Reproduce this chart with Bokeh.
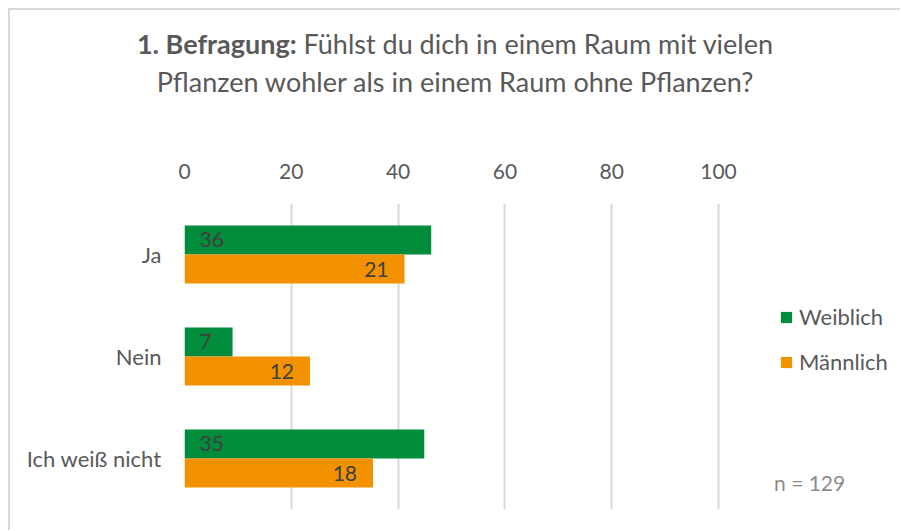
from bokeh.plotting import figure
from bokeh.layouts import column
from bokeh.models import (ColumnDataSource, FactorRange, FixedTicker, Label, LabelSet,
                          Legend, LegendItem, Range1d, Div)
from bokeh.transform import dodge
from bokeh.core.properties import value
from bokeh.embed import file_html
from bokeh.resources import INLINE

# ---- data ----
categories = ["Ja", "Nein", "Ich weiß nicht"]
weiblich_pct = [46.2, 9.0, 44.9]      # bar lengths (%)
maennlich_pct = [41.2, 23.5, 35.3]
weiblich_n = ["36", "7", "35"]         # data labels (counts)
maennlich_n = ["21", "12", "18"]
x_ticks = [0, 20, 40, 60, 80, 100]
series_names = ["Weiblich", "Männlich"]
title_bold = "1. Befragung:"
title_rest1 = "Fühlst du dich in einem Raum mit vielen"
title_line2 = "Pflanzen wohler als in einem Raum ohne Pflanzen?"
note = "n = 129"

GREEN = "#008c3a"
ORANGE = "#f39200"
TXT = "#595959"
FONT = "Lato"

src = ColumnDataSource(dict(cat=categories, w=weiblich_pct, m=maennlich_pct,
                            wn=weiblich_n, mn=maennlich_n, zero=[0, 0, 0]))

# frame: 534 px for 0..100 -> extend range to the right edge so legend/note sit in the frame
PX_PER_UNIT = 5.34
FIG_W, FIG_H = 890, 400
BL, BT, BB = 174, 73, 21
x_end = (FIG_W - BL) / PX_PER_UNIT

p = figure(width=FIG_W, height=FIG_H, output_backend="svg", toolbar_location=None,
           y_range=FactorRange(factors=categories[::-1]),
           x_range=Range1d(0, x_end), x_axis_location="above",
           min_border_left=BL, min_border_right=0, min_border_top=BT,
           min_border_bottom=BB)
p.outline_line_color = None
p.background_fill_color = "white"
p.border_fill_color = "white"

r1 = p.hbar(y=dodge("cat", 0.143, range=p.y_range), left=0, right="w", height=0.284,
            source=src, fill_color=GREEN, line_color=None)
r2 = p.hbar(y=dodge("cat", -0.143, range=p.y_range), left=0, right="m", height=0.284,
            source=src, fill_color=ORANGE, line_color=None)

p.add_layout(LabelSet(x="zero", y=dodge("cat", 0.143, range=p.y_range), text="wn",
                      source=src, x_offset=15, text_align="left", text_baseline="middle",
                      text_font=value(FONT), text_font_size="21px", text_color="#404040"))
p.add_layout(LabelSet(x="m", y=dodge("cat", -0.143, range=p.y_range), text="mn",
                      source=src, x_offset=-16, text_align="right", text_baseline="middle",
                      text_font=value(FONT), text_font_size="21px", text_color="#404040"))

# axes
xa = p.xaxis[0]
xa.ticker = FixedTicker(ticks=x_ticks)
xa.axis_line_color = None
xa.major_tick_line_color = None
xa.minor_tick_line_color = None
xa.major_label_standoff = 19
xa.major_label_text_font = FONT
xa.major_label_text_font_size = "21px"
xa.major_label_text_color = TXT

ya = p.yaxis[0]
ya.axis_line_color = None
ya.major_tick_line_color = None
ya.minor_tick_line_color = None
ya.major_tick_out = 0
ya.major_label_standoff = 23
ya.major_label_text_font = FONT
ya.major_label_text_font_size = "22px"
ya.major_label_text_color = TXT

p.xgrid.grid_line_color = "#d9d9d9"
p.xgrid.grid_line_width = 2
p.ygrid.grid_line_color = None

# legend
legend = Legend(items=[LegendItem(label=series_names[0], renderers=[r1]),
                       LegendItem(label=series_names[1], renderers=[r2])],
                location=(595, 134), orientation="vertical",
                glyph_width=14, glyph_height=14, label_height=14, spacing=18,
                label_standoff=6, padding=0, margin=0,
                border_line_color=None, background_fill_alpha=0,
                label_text_font=FONT, label_text_font_size="22px", label_text_color=TXT)
p.add_layout(legend, "center")

# note
p.add_layout(Label(x=110.4, y=0.268, text=note, text_align="left", text_baseline="middle",
                   text_font=FONT, text_font_size="21px", text_color="#8c8c8c"))

# title (HTML text above the figure)
title_html = (
    '<div style="padding-top:15px;width:890px;text-align:center;line-height:38px;'
    f'font-family:{FONT};font-size:27px;color:{TXT};">'
    f'<b>{title_bold}</b> {title_rest1}<br>{title_line2}</div>'
)
title_div = Div(text=title_html, width=FIG_W, height=120, margin=(0, 0, 0, 0))

layout = column(title_div, p, spacing=0, margin=(8, 0, 0, 8),
                styles={"border-left": "2px solid #d9d9d9", "border-top": "2px solid #d9d9d9",
                        "background-color": "white"})

open("out.html", "w").write(file_html(layout, INLINE))
